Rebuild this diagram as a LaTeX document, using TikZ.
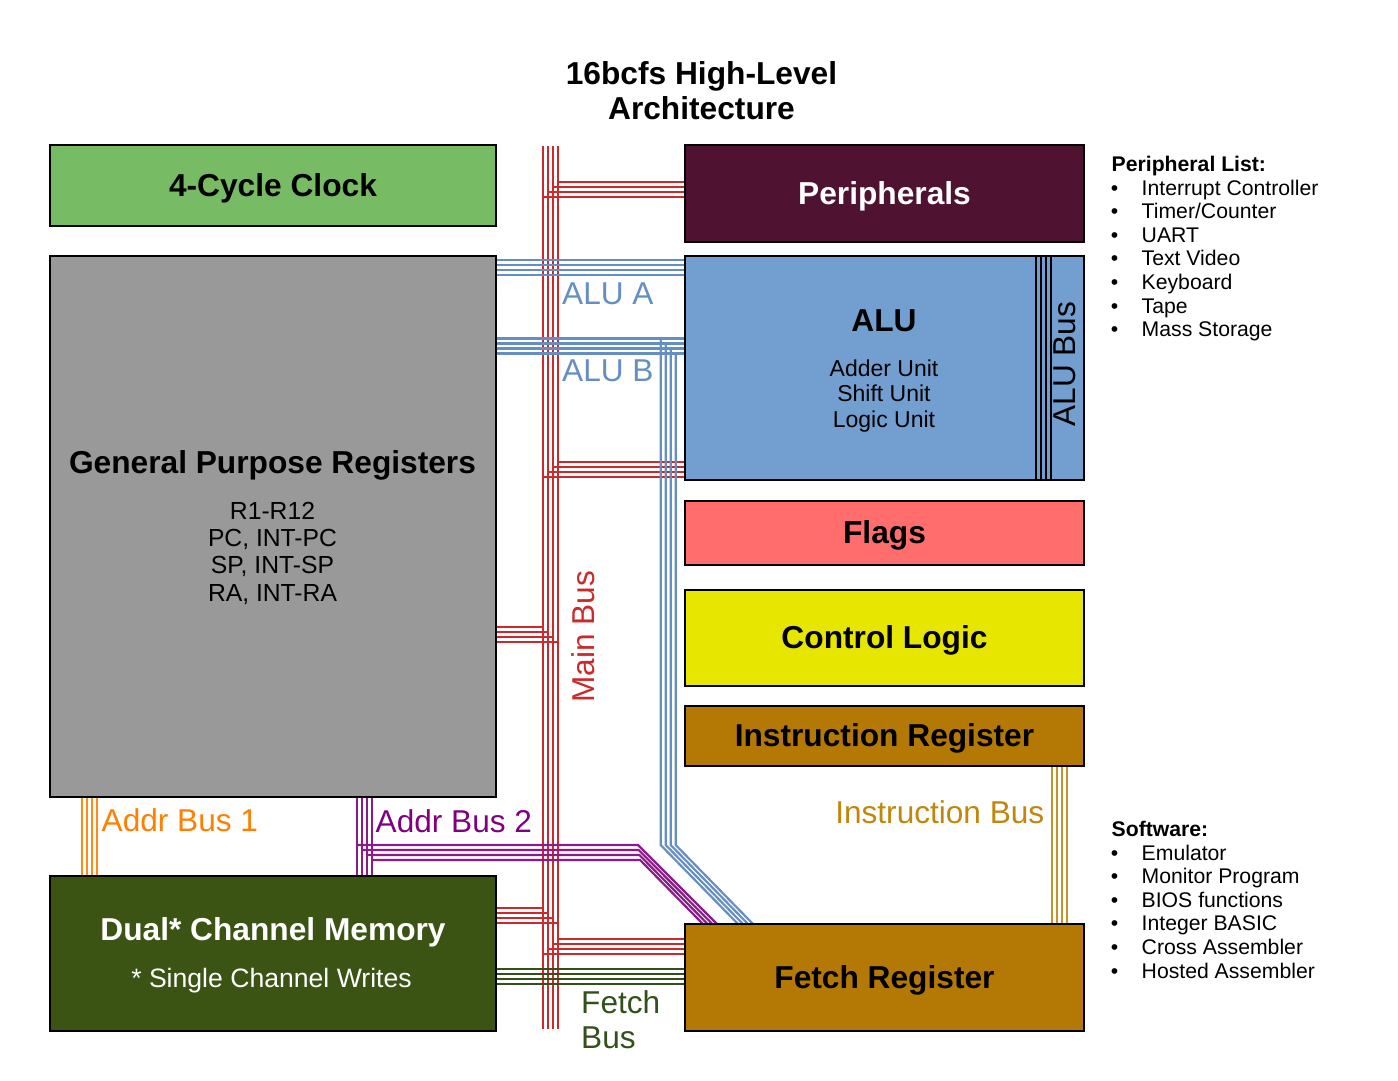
\documentclass[tikz,border=0pt]{standalone}
\usepackage{fontspec}
\setmainfont{Liberation Sans}
\usetikzlibrary{backgrounds,calc}
\definecolor{clockg}{HTML}{77BC65}
\definecolor{perip}{HTML}{4F1231}
\definecolor{gprg}{HTML}{999999}
\definecolor{alub}{HTML}{729FCF}
\definecolor{flagr}{HTML}{FF6D6D}
\definecolor{ctrly}{HTML}{E6E600}
\definecolor{irb}{HTML}{B47804}
\definecolor{memg}{HTML}{3B5313}
\definecolor{busred}{HTML}{CC2A2A}
\definecolor{busblue}{HTML}{658FC4}
\definecolor{busorange}{HTML}{FF8A1A}
\definecolor{txtorange}{HTML}{FF8000}
\definecolor{buspurple}{HTML}{8B1A8B}
\definecolor{txtpurple}{HTML}{800080}
\definecolor{busgold}{HTML}{C8922A}
\definecolor{txtgold}{HTML}{C0870C}
\definecolor{fetchg}{HTML}{34501A}
\begin{document}
\begin{tikzpicture}[x=1pt,y=-1pt]
\tikzset{
 box/.style={draw=black, line width=2.5pt, inner sep=0pt, outer sep=0pt, anchor=north west},
 boxtxt/.style={font=\fontsize{31.7}{35}\selectfont\bfseries, text height=21.8pt, text depth=0pt},
 bus/.style={line width=2.2pt},
 lab/.style={inner sep=0pt, font=\fontsize{31.6}{35}\selectfont},
 hbold/.style={inner sep=0pt, anchor=base, font=\fontsize{31.7}{35}\selectfont\bfseries},
 gprline/.style={inner sep=0pt, anchor=base, font=\fontsize{24.7}{27}\selectfont},
 aluline/.style={inner sep=0pt, anchor=base, font=\fontsize{23}{26}\selectfont},
 lhead/.style={inner sep=0pt, anchor=base west, font=\fontsize{21.2}{24}\selectfont\bfseries},
 litem/.style={inner sep=0pt, anchor=base west, font=\fontsize{21.2}{24}\selectfont},
 bul/.style={inner sep=0pt, anchor=base, font=\fontsize{21.2}{24}\selectfont},
}
\useasboundingbox (0,0) rectangle (1398,1080);

% ---------- boxes ----------
\node[box, fill=clockg, minimum width=446, minimum height=81] (clock) at (50,145) {};
\node[boxtxt] (clockt) at (clock.center) {4-Cycle Clock};
\node[box, fill=perip, minimum width=399, minimum height=97] (per) at (685,145) {};
\node[boxtxt, text=white] (pert) at (per.center) {Peripherals};
\node[box, fill=gprg, minimum width=446, minimum height=541] (gpr) at (50,256) {};
\node[box, fill=alub, minimum width=399, minimum height=224] (alu) at (685,256) {};
\node[box, fill=flagr, minimum width=399, minimum height=64] (flags) at (685,501) {};
\node[boxtxt] (flagst) at (flags.center) {Flags};
\node[box, fill=ctrly, minimum width=399, minimum height=96] (ctrl) at (685,590) {};
\node[boxtxt] (ctrlt) at (ctrl.center) {Control Logic};
\node[box, fill=irb, minimum width=399, minimum height=60] (ir) at (685,706) {};
\node[boxtxt] (irt) at (ir.center) {Instruction Register};
\node[box, fill=memg, minimum width=446, minimum height=155] (mem) at (50,876) {};
\node[box, fill=irb, minimum width=399, minimum height=107] (fetch) at (685,924) {};
\node[boxtxt] (fetcht) at (fetch.center) {Fetch Register};

% ---------- buses (behind boxes) ----------
\begin{scope}[on background layer]
\fill[white] (0,0) rectangle (1398,1080);
\coordinate (mbt) at (543,146);
\coordinate (mbb) at (543,1029);
% main bus
\foreach \i in {0,...,3}
  \draw[bus,busred] ($(mbt)+(5*\i,0)$) -- ($(mbb)+(5*\i,0)$);
\foreach \bx/\y in {per/182, alu/462, fetch/939} {
  \foreach \j in {0,...,3} {
    \pgfmathsetmacro\yy{\y+5*\j}
    \pgfmathsetmacro\xx{558-5*\j}
    \draw[bus,busred] (\xx,\yy) -- (\bx.west |- 0,\yy);
  }
}
\foreach \bx/\y in {gpr/627, mem/908} {
  \foreach \j in {0,...,3} {
    \pgfmathsetmacro\yy{\y+5*\j}
    \pgfmathsetmacro\xx{543+5*\j}
    \draw[bus,busred] (\bx.east |- 0,\yy) -- (\xx,\yy);
  }
}
% ALU A and ALU B
\foreach \j in {0,...,3} {
  \pgfmathsetmacro\ya{260+5*\j}
  \pgfmathsetmacro\yb{338.5+5*\j}
  \pgfmathsetmacro\xx{660.7+5*\j}
  \pgfmathsetmacro\ex{738+5*\j}
  \draw[bus,busblue] (gpr.east |- 0,\ya) -- (alu.west |- 0,\ya);
  \draw[bus,busblue] (gpr.east |- 0,\yb) -- (alu.west |- 0,\yb);
  \draw[bus,busblue] (\xx,\yb) -- (\xx,845) -- (fetch.north -| \ex,0);
}
% Addr Bus 2
\foreach \j in {0,...,3} {
  \pgfmathsetmacro\xx{357+5*\j}
  \pgfmathsetmacro\yy{845+5*\j}
  \pgfmathsetmacro\bxx{638+0.7*\j}
  \pgfmathsetmacro\ex{717-4.7*\j}
  \draw[bus,buspurple] (gpr.south -| \xx,0) -- (mem.north -| \xx,0);
  \draw[bus,buspurple] (\xx,\yy) -- (\bxx,\yy) -- (fetch.north -| \ex,0);
}
% Addr Bus 1
\foreach \j in {0,...,3} {
  \pgfmathsetmacro\xx{82.3+5*\j}
  \draw[bus,busorange] (gpr.south -| \xx,0) -- (mem.north -| \xx,0);
}
% Instruction Bus
\foreach \j in {0,...,3} {
  \pgfmathsetmacro\xx{1052+5*\j}
  \draw[bus,busgold] (ir.south -| \xx,0) -- (fetch.north -| \xx,0);
}
% Fetch Bus
\foreach \j in {0,...,3} {
  \pgfmathsetmacro\yy{969+5*\j}
  \draw[bus,fetchg] (mem.east |- 0,\yy) -- (fetch.west |- 0,\yy);
}
\end{scope}

% ALU bus inside ALU
\foreach \j in {0,...,3} {
  \pgfmathsetmacro\xx{1036+5*\j}
  \draw[line width=2pt,black] (alu.north -| \xx,0) -- (alu.south -| \xx,0);
}
\node[lab, anchor=base, rotate=90] (alubus) at (1075,364) {ALU Bus};

% ---------- texts ----------
\node[hbold] (title1) at (701.5,84.5) {16bcfs High-Level};
\node[hbold] (title2) at (701.5,119.5) {Architecture};

\node[hbold] (gprt) at (272.5,473.3) {General Purpose Registers};
\node[gprline] (gpr1) at (272.5,519) {R1-R12};
\node[gprline] (gpr2) at (272.5,546.7) {PC, INT-PC};
\node[gprline] (gpr3) at (272.5,573.3) {SP, INT-SP};
\node[gprline] (gpr4) at (272.5,601) {RA, INT-RA};

\node[hbold] (alut) at (884,331.5) {ALU};
\node[aluline] (alu1) at (884,376) {Adder Unit};
\node[aluline] (alu2) at (884,401.5) {Shift Unit};
\node[aluline] (alu3) at (884,427) {Logic Unit};

\node[hbold, text=white] (memt) at (273,940) {Dual* Channel Memory};
\node[inner sep=0pt, anchor=base, text=white, font=\fontsize{26.6}{30}\selectfont] (mems) at (271.5,987.3) {* Single Channel Writes};

% bus labels
\node[lab, anchor=base west, text=busblue] (alua) at (562,304) {ALU A};
\node[lab, anchor=base west, text=busblue] (alub) at (562,381.7) {ALU B};
\node[lab, anchor=base, rotate=90, text=busred] (mainbus) at (594,637) {Main Bus};
\node[lab, anchor=base west, text=txtorange] (ab1) at (101.5,831.7) {Addr Bus 1};
\node[lab, anchor=base west, text=txtpurple] (ab2) at (375.5,832.3) {Addr Bus 2};
\node[lab, anchor=base east, text=txtgold] (ibus) at (1044.5,823) {Instruction Bus};
\node[lab, anchor=base west, text=fetchg] (fb1) at (581,1013) {Fetch};
\node[lab, anchor=base west, text=fetchg] (fb2) at (581,1048) {Bus};

% lists
\node[lhead] (plh) at (1111.5,171.7) {Peripheral List:};
\foreach \t [count=\k from 0] in {Interrupt Controller, {Timer/Counter}, UART, Text Video, Keyboard, Tape, Mass Storage} {
  \pgfmathsetmacro\yy{195+23.6*\k}
  \node[bul] (pb\k) at (1114.5,\yy) {•};
  \node[litem] (pi\k) at (1141.5,\yy) {\t};
}
\node[lhead] (swh) at (1111.5,836.5) {Software:};
\foreach \t [count=\k from 0] in {Emulator, Monitor Program, BIOS functions, Integer BASIC, Cross Assembler, Hosted Assembler} {
  \pgfmathsetmacro\yy{860+23.6*\k}
  \node[bul] (sb\k) at (1114.5,\yy) {•};
  \node[litem] (si\k) at (1141.5,\yy) {\t};
}
\end{tikzpicture}
\end{document}
